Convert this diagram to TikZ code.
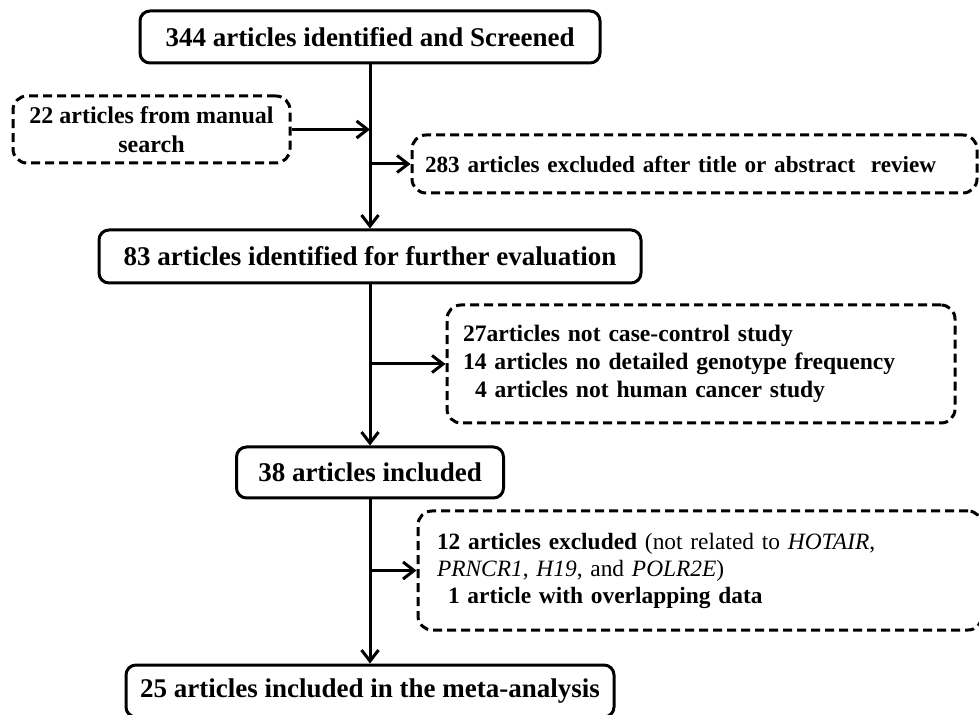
\documentclass[tikz,border=0pt]{standalone}
\usepackage{fontspec}
\setmainfont{Liberation Serif}
\usetikzlibrary{arrows.meta}
\tikzset{
  mainbox/.style={draw,line width=1.5pt,rounded corners=5pt,inner sep=0pt,font=\fontsize{13.5}{16}\selectfont\bfseries},
  sidebox/.style={draw,line width=1.5pt,dash pattern=on 4.5pt off 2.5pt,rounded corners=7pt,inner ysep=0pt,align=left,font=\fontsize{12}{14}\selectfont},
  flow/.style={line width=1.5pt,-{Straight Barb[length=5.5pt,width=8.5pt,line width=1.5pt]}}
}
\begin{document}
\begin{tikzpicture}[x=0.5pt,y=-0.5pt]
\useasboundingbox (0,0) rectangle (979,715);
\node[mainbox,minimum width=230pt,minimum height=26pt] (screened) at (370,37) {344 articles identified and Screened};
\node[sidebox,align=center,inner xsep=0pt,minimum width=138.5pt,minimum height=33.5pt,font=\fontsize{12}{14.5}\selectfont\bfseries] (manual) at (151.5,129.5) {22 articles from manual\\search};
\node[sidebox,inner xsep=6.5pt,text width=269.5pt,minimum height=29pt,font=\fontsize{11.6}{14}\selectfont] (title) at (694.5,164) {\textbf{283 articles excluded after title or abstract \ review}};
\node[mainbox,minimum width=271pt,minimum height=26.5pt] (further) at (370,256.5) {83 articles identified for further evaluation};
\node[sidebox,inner xsep=8pt,text width=238pt,minimum height=59pt,font=\fontsize{11.8}{14}\selectfont\bfseries] (casecontrol) at (701,364) {27articles not case-control study\\14 articles no detailed genotype frequency\\\hspace*{6pt}4 articles not human cancer study};
\node[mainbox,minimum width=133.5pt,minimum height=25.5pt] (included) at (370,472.5) {38 articles included};
\node[sidebox,inner xsep=9.5pt,text width=263pt,minimum height=59.5pt,font=\fontsize{11.7}{13.5}\selectfont] (genes) at (700,570.5) {\textbf{12 articles excluded} (not related to \textit{HOTAIR},\\\textit{PRNCR1}, \textit{H19}, and \textit{POLR2E})\\\hspace*{5.5pt}\textbf{1 article with overlapping data}};
\node[mainbox,minimum width=244pt,minimum height=26pt] (meta) at (370,691) {25 articles included in the meta-analysis};
% main line
\draw[flow] (screened.south) -- (screened.south |- further.north);
\draw[flow] (further.south) -- (further.south |- included.north);
\draw[flow] (included.south) -- (included.south |- meta.north);
% side arrows
\draw[flow] (manual.east) -- (manual.east -| screened.south);
\draw[flow] (title.west -| screened.south) -- (title.west);
\draw[flow] (casecontrol.west -| further.south) -- (casecontrol.west);
\draw[flow] (genes.west -| included.south) -- (genes.west);
\end{tikzpicture}
\end{document}
